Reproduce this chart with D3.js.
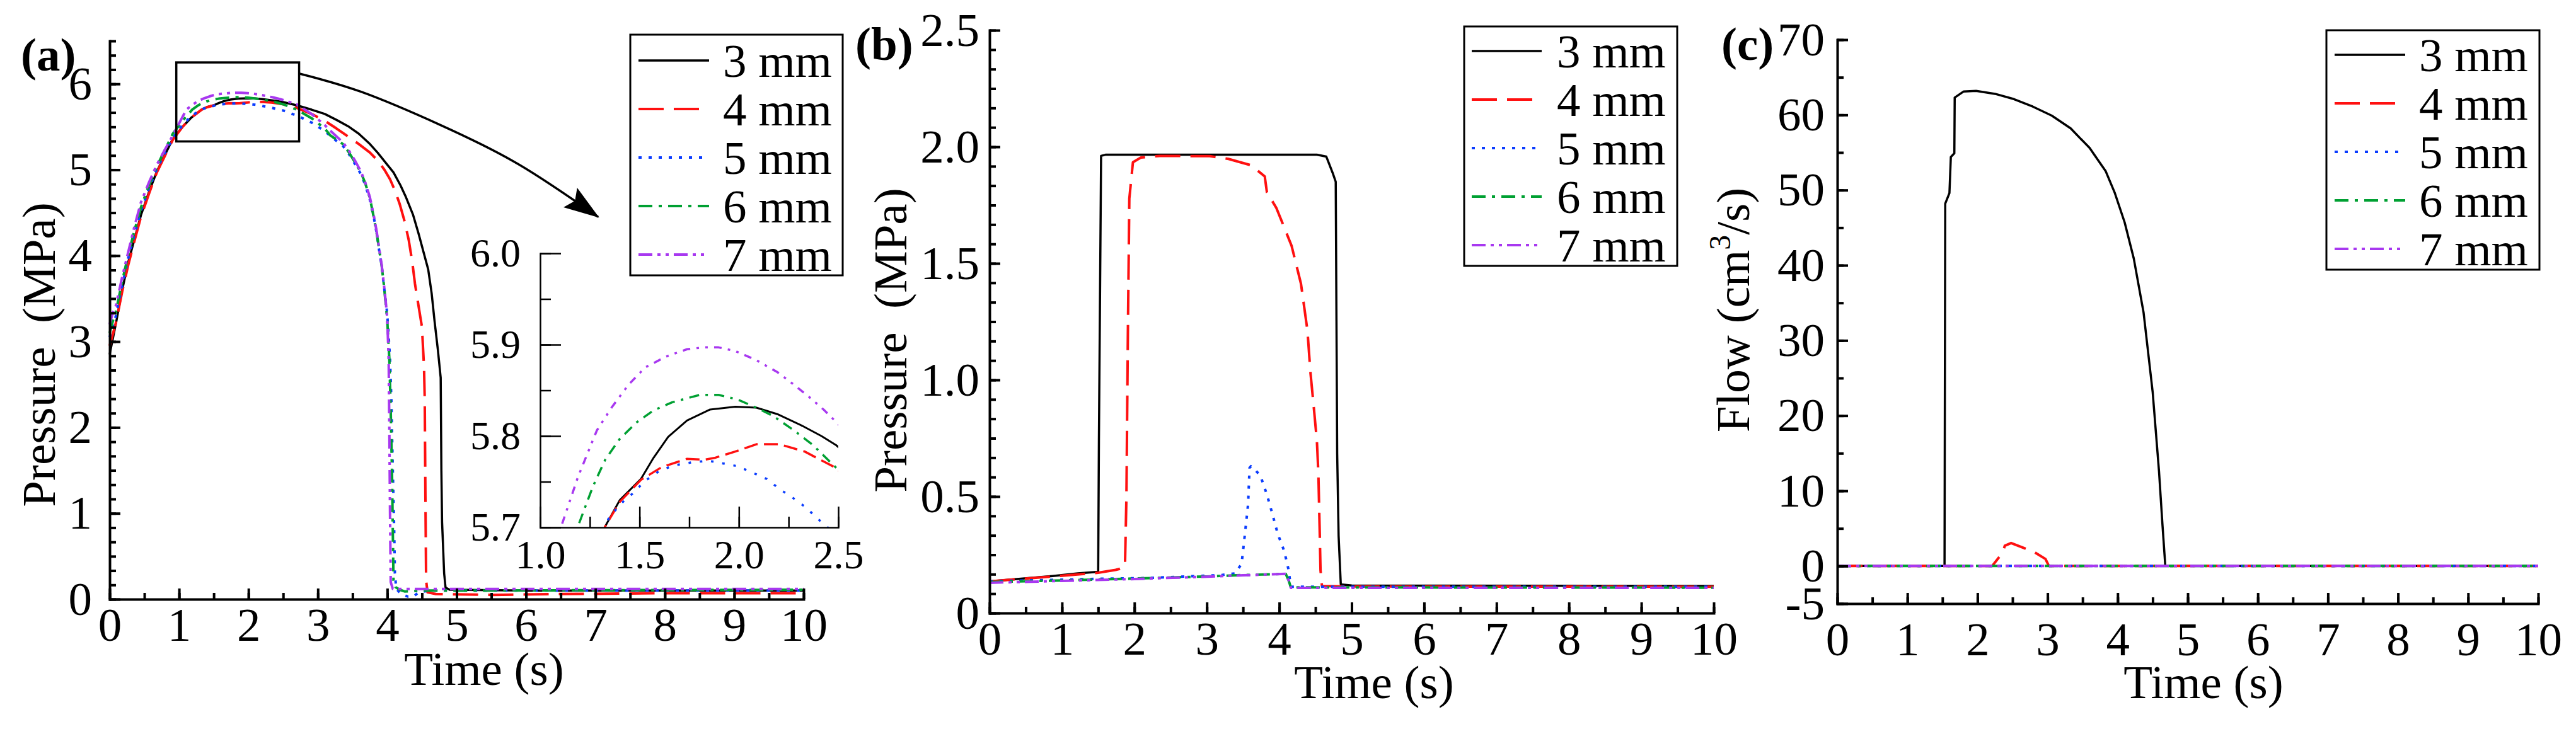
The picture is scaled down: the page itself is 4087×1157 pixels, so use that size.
<!DOCTYPE html>
<html>
<head>
<meta charset="utf-8">
<script src="https://cdn.jsdelivr.net/npm/d3@7"></script>
<style>
  body { margin: 0; background: #fff; }
  svg text { font-family: "Liberation Serif", "Times New Roman", serif; }
</style>
</head>
<body>
<svg id="chart" width="4087" height="1157"></svg>
<script>
// series legend names and styles
const seriesNames = ["3 mm", "4 mm", "5 mm", "6 mm", "7 mm"];
const seriesColors = ["#000000", "#ff1010", "#0a3cff", "#00a032", "#a838f0"];
const dashMain = [null, "40,16", "5,11", "22,10,5,10", "22,8,5,8,5,8"];
const dashInset = [null, "22,10", "4,14", "16,10,4,10", "12,10,4,10,4,10"];

// tick labels
const timeTicks = [0, 1, 2, 3, 4, 5, 6, 7, 8, 9, 10];
const pressureTicksA = [0, 1, 2, 3, 4, 5, 6];
const pressureTicksB = [0, 0.5, 1.0, 1.5, 2.0, 2.5];
const flowTicksC = [-5, 0, 10, 20, 30, 40, 50, 60, 70];
const insetTimeTicks = [1.0, 1.5, 2.0, 2.5];
const insetPressureTicks = [5.7, 5.8, 5.9, 6.0];

// (a) pressure, [time s, MPa]
const pressureA3 = [[0,2.85],[0.05,3.05],[0.09,3.21],[0.18,3.6],[0.27,3.93],[0.36,4.2],[0.45,4.47],[0.57,4.75],[0.68,4.98],[0.8,5.18],[0.91,5.36],[1.05,5.5],[1.18,5.61],[1.327,5.701],[1.401,5.73],[1.507,5.753],[1.57,5.776],[1.644,5.799],[1.739,5.817],[1.855,5.829],[1.982,5.832],[2.088,5.831],[2.193,5.824],[2.32,5.811],[2.415,5.8],[2.489,5.79],[2.7,5.75],[2.91,5.7],[3.1,5.65],[3.27,5.58],[3.45,5.5],[3.59,5.42],[3.75,5.3],[3.86,5.2],[4.0,5.06],[4.09,4.97],[4.19,4.82],[4.27,4.68],[4.37,4.48],[4.45,4.26],[4.53,4.02],[4.59,3.84],[4.64,3.56],[4.68,3.25],[4.73,2.9],[4.77,2.58],[4.78,1.5],[4.79,0.9],[4.82,0.3],[4.84,0.135],[4.9,0.11],[6,0.1],[8,0.1],[10,0.1]];
const pressureA4 = [[0,2.95],[0.05,3.1],[0.09,3.22],[0.18,3.58],[0.27,3.9],[0.36,4.18],[0.45,4.45],[0.57,4.73],[0.68,4.97],[0.8,5.17],[0.91,5.35],[1.05,5.5],[1.18,5.61],[1.327,5.701],[1.401,5.728],[1.507,5.752],[1.612,5.766],[1.739,5.775],[1.824,5.774],[1.877,5.776],[1.982,5.783],[2.088,5.791],[2.204,5.791],[2.331,5.783],[2.436,5.771],[2.489,5.765],[2.7,5.72],[2.91,5.65],[3.1,5.57],[3.27,5.48],[3.45,5.38],[3.59,5.3],[3.75,5.2],[3.86,5.11],[3.96,5.0],[4.04,4.89],[4.11,4.76],[4.18,4.6],[4.25,4.4],[4.31,4.18],[4.36,3.93],[4.4,3.67],[4.45,3.42],[4.5,3.17],[4.53,2.7],[4.54,2.33],[4.55,1.2],[4.56,0.22],[4.58,0.08],[4.7,0.06],[5.5,0.05],[6.5,0.06],[8,0.07],[10,0.07]];
const pressureA5 = [[0,3.05],[0.05,3.2],[0.09,3.3],[0.18,3.65],[0.27,3.98],[0.36,4.25],[0.45,4.52],[0.57,4.79],[0.68,5.01],[0.8,5.2],[0.91,5.37],[1.05,5.52],[1.18,5.63],[1.343,5.709],[1.401,5.725],[1.465,5.737],[1.528,5.751],[1.602,5.762],[1.676,5.768],[1.76,5.771],[1.845,5.773],[1.919,5.77],[1.993,5.767],[2.067,5.76],[2.14,5.753],[2.204,5.742],[2.267,5.733],[2.336,5.722],[2.399,5.709],[2.5,5.69],[2.7,5.63],[2.91,5.55],[3.1,5.45],[3.2,5.38],[3.36,5.28],[3.45,5.18],[3.54,5.06],[3.62,4.95],[3.68,4.83],[3.75,4.65],[3.81,4.43],[3.85,4.25],[3.88,4.08],[3.92,3.87],[3.95,3.66],[3.99,3.4],[4.01,3.2],[4.04,2.8],[4.06,2.3],[4.08,1.5],[4.1,0.8],[4.11,0.3],[4.13,0.12],[4.2,0.06],[4.3,0.03],[4.38,0.03],[4.45,0.08],[4.6,0.1],[10,0.1]];
const pressureA6 = [[0,3.1],[0.05,3.25],[0.09,3.35],[0.18,3.7],[0.27,4.02],[0.36,4.3],[0.45,4.56],[0.57,4.83],[0.68,5.04],[0.8,5.24],[0.91,5.42],[1.05,5.57],[1.19,5.701],[1.264,5.744],[1.327,5.774],[1.401,5.797],[1.486,5.815],[1.57,5.828],[1.665,5.837],[1.803,5.845],[1.898,5.845],[1.993,5.84],[2.088,5.831],[2.172,5.822],[2.278,5.806],[2.373,5.79],[2.5,5.763],[2.7,5.7],[2.91,5.6],[3.1,5.48],[3.18,5.4],[3.36,5.3],[3.45,5.2],[3.54,5.08],[3.62,4.97],[3.68,4.85],[3.75,4.67],[3.81,4.43],[3.85,4.25],[3.88,4.09],[3.92,3.88],[3.95,3.67],[3.98,3.42],[4.0,3.25],[4.03,2.8],[4.05,2.2],[4.07,1.4],[4.08,0.8],[4.09,0.22],[4.12,0.14],[4.18,0.11],[4.25,0.09],[4.5,0.1],[10,0.11]];
const pressureA7 = [[0,3.2],[0.05,3.35],[0.09,3.42],[0.18,3.75],[0.27,4.05],[0.36,4.35],[0.45,4.62],[0.57,4.86],[0.68,5.06],[0.8,5.24],[0.91,5.4],[1.0,5.54],[1.106,5.701],[1.19,5.755],[1.285,5.806],[1.359,5.831],[1.444,5.856],[1.528,5.875],[1.634,5.887],[1.739,5.895],[1.824,5.897],[1.898,5.897],[1.982,5.893],[2.088,5.883],[2.193,5.87],[2.278,5.856],[2.352,5.843],[2.426,5.829],[2.5,5.813],[2.7,5.76],[2.91,5.65],[3.1,5.52],[3.2,5.44],[3.36,5.32],[3.45,5.22],[3.54,5.1],[3.62,4.98],[3.68,4.86],[3.75,4.68],[3.81,4.45],[3.85,4.27],[3.88,4.1],[3.92,3.89],[3.95,3.68],[3.98,3.45],[4.0,3.27],[4.02,2.8],[4.03,2.0],[4.04,1.0],[4.05,0.2],[4.08,0.12],[4.2,0.12],[10,0.12]];

// (b) pressure, [time s, MPa]
const pressureB3 = [[0,0.136],[0.43,0.147],[0.87,0.159],[1.22,0.17],[1.5,0.177],[1.51,0.74],[1.54,1.961],[1.6,1.966],[4.52,1.966],[4.65,1.958],[4.74,1.886],[4.78,1.85],[4.8,0.684],[4.82,0.33],[4.85,0.123],[5,0.118],[10,0.116]];
const pressureB4 = [[0,0.136],[0.5,0.148],[1.0,0.16],[1.5,0.173],[1.74,0.185],[1.8,0.19],[1.87,0.2],[1.89,0.5],[1.91,1.2],[1.93,1.778],[1.98,1.934],[2.09,1.954],[2.35,1.961],[3.04,1.96],[3.3,1.948],[3.61,1.921],[3.8,1.873],[3.83,1.805],[3.96,1.738],[4.17,1.576],[4.3,1.413],[4.39,1.211],[4.43,1.035],[4.48,0.873],[4.52,0.738],[4.54,0.603],[4.56,0.332],[4.57,0.184],[4.59,0.116],[5,0.114],[10,0.113]];
const pressureB5 = [[0,0.136],[0.5,0.14],[1.0,0.143],[1.5,0.147],[2.17,0.15],[2.8,0.158],[3.2,0.163],[3.39,0.17],[3.48,0.211],[3.53,0.35],[3.57,0.467],[3.59,0.623],[3.61,0.63],[3.68,0.61],[3.74,0.589],[3.83,0.508],[3.91,0.42],[3.98,0.339],[4.07,0.265],[4.13,0.184],[4.15,0.136],[4.17,0.113],[5,0.113],[10,0.113]];
const pressureB6 = [[0,0.133],[1,0.14],[2,0.148],[3,0.157],[3.5,0.163],[4.09,0.168],[4.13,0.14],[4.16,0.11],[5,0.11],[10,0.109]];
const pressureB7 = [[0,0.13],[1,0.138],[2,0.146],[3,0.156],[3.5,0.162],[4.09,0.168],[4.13,0.14],[4.16,0.108],[5,0.108],[10,0.108]];

// (c) flow, [time s, cm3/s]
const flowC3 = [[0,0],[1.53,0],[1.54,48.2],[1.6,49.6],[1.62,54.4],[1.67,54.9],[1.675,62.3],[1.8,63.1],[1.98,63.2],[2.25,62.8],[2.52,62.1],[2.79,61.1],[3.06,59.9],[3.33,58.2],[3.6,55.6],[3.83,52.5],[3.96,49.6],[4.1,45.7],[4.23,40.9],[4.37,33.7],[4.5,23.1],[4.59,12.6],[4.64,5.4],[4.68,0],[10,0]];
const flowC4 = [[0,0],[2.21,0],[2.36,1.8],[2.39,2.7],[2.48,3.06],[2.66,2.4],[2.82,1.8],[2.97,0.94],[3.02,0],[10,0]];
const flowC5 = [[0,0],[10,0]];
const flowC6 = [[0,0],[10,0]];
const flowC7 = [[0,0],[10,0]];

// zoom box and arrow in (a), data coords
const zoomBoxA = [[0.96, 5.33], [2.73, 6.25]];
const arrowA = [[2.73,6.12],[3.63,5.906],[4.77,5.52],[5.9,5.06],[7.04,4.45]];

const FONT = '"Liberation Serif", "Times New Roman", serif';
const svg = d3.select("#chart");

svg.append("defs").append("marker")
    .attr("id", "arrowhead")
    .attr("markerUnits", "userSpaceOnUse")
    .attr("viewBox", "0 0 56 40")
    .attr("markerWidth", 56).attr("markerHeight", 40)
    .attr("refX", 54).attr("refY", 20)
    .attr("orient", "auto")
    .append("path")
    .attr("d", "M0,1 L56,20 L0,39 L9,20 Z")
    .attr("fill", "#000");

function drawAxes(g, x, y, o) {
    const x0 = x.range()[0], y0 = y.range()[0];
    // minor ticks
    g.append("g").attr("transform", `translate(0,${y0})`)
        .call(d3.axisBottom(x).tickValues(o.xMinor).tickSizeInner(-o.minor).tickSizeOuter(0).tickFormat(""))
        .call(s => { s.select(".domain").remove(); s.selectAll("line").attr("stroke", "#000").attr("stroke-width", o.lw); });
    g.append("g").attr("transform", `translate(${x0},0)`)
        .call(d3.axisLeft(y).tickValues(o.yMinor).tickSizeInner(-o.minor).tickSizeOuter(0).tickFormat(""))
        .call(s => { s.select(".domain").remove(); s.selectAll("line").attr("stroke", "#000").attr("stroke-width", o.lw); });
    // major ticks + labels
    const gx = g.append("g").attr("transform", `translate(0,${y0})`)
        .call(d3.axisBottom(x).tickValues(o.xTicks).tickSizeInner(-o.major).tickSizeOuter(0)
            .tickPadding(o.xPad).tickFormat(o.xFmt));
    const gy = g.append("g").attr("transform", `translate(${x0},0)`)
        .call(d3.axisLeft(y).tickValues(o.yTicks).tickSizeInner(-o.major).tickSizeOuter(0)
            .tickPadding(o.yPad).tickFormat(o.yFmt));
    [gx, gy].forEach(s => {
        s.attr("font-size", null).attr("font-family", null);
        s.select(".domain").attr("stroke", "#000").attr("stroke-width", o.lw).attr("stroke-linecap", "square");
        s.selectAll(".tick line").attr("stroke", "#000").attr("stroke-width", o.lw);
        s.selectAll(".tick text").attr("font-size", o.fs).attr("font-family", FONT).attr("fill", "#000");
    });
}

function drawSeries(g, x, y, series, dashes, lw, clipId) {
    const line = d3.line().x(d => x(d[0])).y(d => y(d[1]));
    const lg = g.append("g");
    if (clipId) lg.attr("clip-path", `url(#${clipId})`);
    series.forEach((s, i) => {
        lg.append("path")
            .datum(s)
            .attr("d", line)
            .attr("fill", "none")
            .attr("stroke", seriesColors[i])
            .attr("stroke-width", i === 0 ? lw - 0.5 : lw)
            .attr("stroke-dasharray", dashes[i])
            .attr("stroke-linejoin", "round");
    });
}

function drawLegend(g, L) {
    g.append("rect")
        .attr("x", L.x0).attr("y", L.y0)
        .attr("width", L.x1 - L.x0).attr("height", L.y1 - L.y0)
        .attr("fill", "#fff").attr("stroke", "#000").attr("stroke-width", 3);
    seriesNames.forEach((name, i) => {
        const cy = L.row0 + i * 77;
        g.append("line")
            .attr("x1", L.s0).attr("x2", L.s1).attr("y1", cy).attr("y2", cy)
            .attr("stroke", seriesColors[i])
            .attr("stroke-width", i === 0 ? 3.5 : 4)
            .attr("stroke-dasharray", dashMain[i]);
        g.append("text")
            .attr("x", L.tx).attr("y", cy + 26)
            .attr("font-size", 75)
            .text(name);
    });
}

const panels = [
    {
        tag: "(a)", tagX: 33, tagY: 112,
        x: d3.scaleLinear().domain([0, 10]).range([174, 1275]),
        y: d3.scaleLinear().domain([0, 6.5]).range([951, 65]),
        series: [pressureA3, pressureA4, pressureA5, pressureA6, pressureA7],
        yTicks: pressureTicksA, yMinor: d3.range(0, 6.5001, 1 / 6), yFmt: d => String(d),
        yPad: 28, xPad: 13,
        yTitle: "Pressure\u00a0\u00a0(MPa)", yTitleX: 87, yTitleY: 563,
        xTitleX: 768, xTitleY: 1087,
        legend: {x0: 1000, x1: 1337, y0: 55, y1: 437, row0: 96, s0: 1013, s1: 1125, tx: 1147}
    },
    {
        tag: "(b)", tagX: 1357, tagY: 95,
        x: d3.scaleLinear().domain([0, 10]).range([1570, 2719]),
        y: d3.scaleLinear().domain([0, 2.5]).range([973, 48]),
        series: [pressureB3, pressureB4, pressureB5, pressureB6, pressureB7],
        yTicks: pressureTicksB, yMinor: d3.range(0, 2.5001, 0.5 / 6), yFmt: d => d === 0 ? "0" : d.toFixed(1),
        yPad: 16, xPad: 13,
        yTitle: "Pressure\u00a0\u00a0(MPa)", yTitleX: 1438, yTitleY: 540,
        xTitleX: 2180, xTitleY: 1108,
        legend: {x0: 2323, x1: 2661, y0: 42, y1: 422, row0: 81, s0: 2335, s1: 2446, tx: 2470}
    },
    {
        tag: "(c)", tagX: 2731, tagY: 95,
        x: d3.scaleLinear().domain([0, 10]).range([2915, 4027]),
        y: d3.scaleLinear().domain([-5, 70]).range([958, 63]),
        series: [flowC3, flowC4, flowC5, flowC6, flowC7],
        yTicks: flowTicksC, yMinor: d3.range(-5, 70.001, 5), yFmt: d => String(d),
        yPad: 20, xPad: 29,
        yTitle: null, yTitleX: 2775, yTitleY: 492,
        xTitleX: 3496, xTitleY: 1108,
        legend: {x0: 3691, x1: 4029, y0: 48, y1: 428, row0: 87, s0: 3704, s1: 3816, tx: 3838}
    }
];

panels.forEach(p => {
    const g = svg.append("g");
    drawSeries(g, p.x, p.y, p.series, dashMain, 4, null);
    drawAxes(g, p.x, p.y, {
        xTicks: timeTicks, xMinor: d3.range(0, 10.001, 0.5), xFmt: d => String(d),
        yTicks: p.yTicks, yMinor: p.yMinor, yFmt: p.yFmt,
        major: 17, minor: 10, lw: 4, fs: 75, xPad: p.xPad, yPad: p.yPad
    });
    drawLegend(g, p.legend);

    g.append("text")
        .attr("x", p.tagX).attr("y", p.tagY)
        .attr("font-size", 75).attr("font-weight", "bold")
        .text(p.tag);

    g.append("text")
        .attr("x", p.xTitleX).attr("y", p.xTitleY)
        .attr("text-anchor", "middle").attr("font-size", 75)
        .text("Time (s)");

    const yt = g.append("text")
        .attr("transform", `translate(${p.yTitleX},${p.yTitleY}) rotate(-90)`)
        .attr("text-anchor", "middle").attr("font-size", 75);
    if (p.yTitle) {
        yt.text(p.yTitle);
    } else {
        yt.append("tspan").text("Flow (cm");
        yt.append("tspan").attr("font-size", 48).attr("dy", -30).text("3");
        yt.append("tspan").attr("dy", 30).text("/s)");
    }
});

// (a) zoom box, arrow and inset
const pa = panels[0];
const ga = svg.append("g");
ga.append("rect")
    .attr("x", pa.x(zoomBoxA[0][0])).attr("y", pa.y(zoomBoxA[1][1]))
    .attr("width", pa.x(zoomBoxA[1][0]) - pa.x(zoomBoxA[0][0]))
    .attr("height", pa.y(zoomBoxA[0][1]) - pa.y(zoomBoxA[1][1]))
    .attr("fill", "none").attr("stroke", "#000").attr("stroke-width", 3.5);

ga.append("path")
    .datum(arrowA)
    .attr("d", d3.line().x(d => pa.x(d[0])).y(d => pa.y(d[1])).curve(d3.curveNatural))
    .attr("fill", "none").attr("stroke", "#000").attr("stroke-width", 3.5)
    .attr("marker-end", "url(#arrowhead)");

const ix = d3.scaleLinear().domain([1.0, 2.5]).range([857, 1330]);
const iy = d3.scaleLinear().domain([5.7, 6.0]).range([837, 402]);
svg.select("defs").append("clipPath").attr("id", "insetClip")
    .append("rect").attr("x", 857).attr("y", 402).attr("width", 473).attr("height", 435);
drawSeries(ga, ix, iy, pa.series, dashInset, 3.5, "insetClip");
drawAxes(ga, ix, iy, {
    xTicks: insetTimeTicks, xMinor: d3.range(1.0, 2.5001, 0.25), xFmt: d => d.toFixed(1),
    yTicks: insetPressureTicks, yMinor: d3.range(5.7, 6.0001, 0.05), yFmt: d => d.toFixed(1),
    major: 33, minor: 17, lw: 2.5, fs: 64, xPad: 20, yPad: 31
});
</script>
</body>
</html>
